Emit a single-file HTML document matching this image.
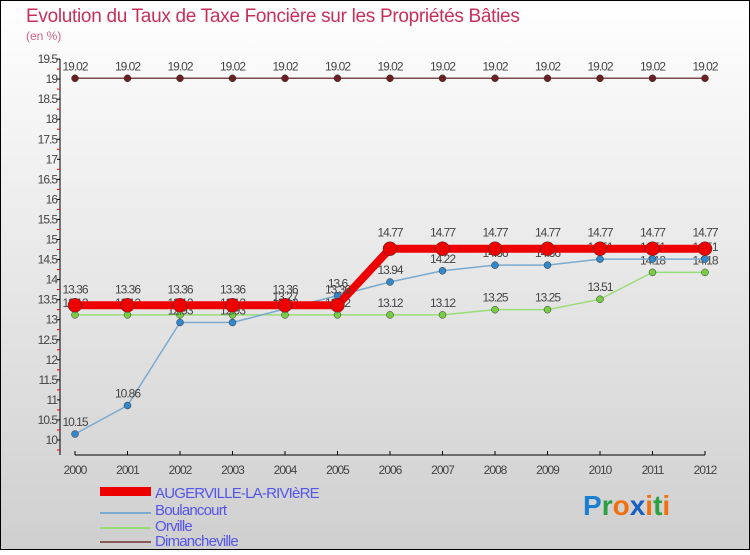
<!DOCTYPE html>
<html><head><meta charset="utf-8"><style>
html,body{margin:0;padding:0}
body{width:750px;height:550px;overflow:hidden;font-family:"Liberation Sans",sans-serif}
</style></head><body>
<svg id="chart" width="750" height="550" xmlns="http://www.w3.org/2000/svg">
<defs><linearGradient id="bg" x1="0" y1="0" x2="0" y2="1"><stop offset="0" stop-color="#ffffff"/><stop offset="1" stop-color="#cfcfcf"/></linearGradient></defs>
<rect x="0.5" y="0.5" width="749" height="549" fill="url(#bg)" stroke="#000"/>
<text x="26" y="22" font-size="19" fill="#c8305a" letter-spacing="-0.3">Evolution du Taux de Taxe Foncière sur les Propriétés Bâties</text>
<text x="26" y="40" font-size="12" fill="#d06080">(en %)</text>
<g id="axes"></g><g id="series"></g>
<g>
<rect x="100" y="487" width="51" height="9" fill="#e00"/>
<text x="155" y="498" font-size="15" fill="#5555ee" letter-spacing="-0.8">AUGERVILLE-LA-RIVIèRE</text>
<line x1="100" y1="513" x2="151" y2="513" stroke="#7aaad0" stroke-width="2"/>
<text x="155" y="515" font-size="15" fill="#5555ee" letter-spacing="-0.8">Boulancourt</text>
<line x1="100" y1="528" x2="151" y2="528" stroke="#99dd77" stroke-width="2"/>
<text x="155" y="531" font-size="15" fill="#5555ee" letter-spacing="-0.8">Orville</text>
<line x1="100" y1="542" x2="151" y2="542" stroke="#8a5a5a" stroke-width="2"/>
<text x="155" y="546" font-size="15" fill="#5555ee" letter-spacing="-0.8">Dimancheville</text>
</g>
<g font-size="28" font-weight="bold">
<text x="583" y="515"><tspan fill="#1a7fd0">P</tspan><tspan fill="#2aa040">r</tspan><tspan fill="#f07010">o</tspan><tspan fill="#1a60c0">x</tspan><tspan fill="#f07010">i</tspan><tspan fill="#2aa040">t</tspan><tspan fill="#f07010">i</tspan></text>
</g>
</svg>
<script>
const years = [2000,2001,2002,2003,2004,2005,2006,2007,2008,2009,2010,2011,2012];
const yTicks = [10,10.5,11,11.5,12,12.5,13,13.5,14,14.5,15,15.5,16,16.5,17,17.5,18,18.5,19,19.5];
const augerville = [13.36,13.36,13.36,13.36,13.36,13.36,14.77,14.77,14.77,14.77,14.77,14.77,14.77];
const boulancourt = [10.15,10.86,12.93,12.93,13.27,13.6,13.94,14.22,14.36,14.36,14.51,14.51,14.51];
const orville = [13.12,13.12,13.12,13.12,13.12,13.12,13.12,13.12,13.25,13.25,13.51,14.18,14.18];
const dimancheville = [19.02,19.02,19.02,19.02,19.02,19.02,19.02,19.02,19.02,19.02,19.02,19.02,19.02];

const NS='http://www.w3.org/2000/svg';
const x0=75,x1=705,yBase=440,yPer=40.1;
function xScale(i){return x0+(x1-x0)*i/(years.length-1);}
function yScale(v){return yBase-(v-10)*yPer;}
function mk(tag,attrs,parent,txt){const e=document.createElementNS(NS,tag);for(const k in attrs)e.setAttribute(k,attrs[k]);if(txt!==undefined)e.textContent=txt;parent.appendChild(e);return e;}
const axes=document.getElementById('axes'),ser=document.getElementById('series');
let a=mk('line',{x1:60,y1:yScale(19.5),x2:60,y2:455,stroke:'#000'},axes);


a=mk('line',{x1:75,y1:455,x2:705,y2:455,stroke:'#000'},axes);


yTicks.forEach(v=>{
 const y=yScale(v);
 mk('line',{x1:57,y1:y,x2:60,y2:y,stroke:'#000'},axes);
 mk('line',{x1:57,y1:y+yPer/4,x2:60,y2:y+yPer/4,stroke:'#e00'},axes);
 const t=mk('text',{x:57,y:y+4,'font-size':12,fill:'#444','text-anchor':'end','letter-spacing':'-1'},axes,String(v));
 
 
});
years.forEach((yr,i)=>{
 const x=xScale(i);
 mk('line',{x1:x,y1:451,x2:x,y2:455,stroke:'#000'},axes);
 const t=mk('text',{x:x,y:474,'font-size':12,fill:'#444','text-anchor':'middle','letter-spacing':'-1'},axes,String(yr));
 
 
});
function draw(name,vals,color,w,r,dot,labelDy){
 const g=mk('g',{},ser);
 
 
 const p=mk('polyline',{points:vals.map((v,i)=>xScale(i)+','+yScale(v)).join(' '),fill:'none',stroke:color,'stroke-width':w,'stroke-linejoin':'round'},g);
 
 
 vals.forEach((v,i)=>{
  const c=mk('circle',{cx:xScale(i),cy:yScale(v),r:r,fill:dot,stroke:'#333','stroke-width':0.5},g);
  
  
  const t=mk('text',{x:xScale(i),y:yScale(v)+labelDy,'font-size':12,fill:'#444','text-anchor':'middle','letter-spacing':'-1'},g,String(v));
  
  
 });
}
draw('dimancheville',dimancheville,'#7a4a4a',1.5,3.5,'#6a2020',-8);
draw('orville',orville,'#99dd77',1.5,3.5,'#77cc44',-8);
draw('boulancourt',boulancourt,'#7aaad0',1.5,3.5,'#3388cc',-8);
draw('augerville',augerville,'#ee0000',8,7,'#ee0000',-12);
</script>
</body></html>
